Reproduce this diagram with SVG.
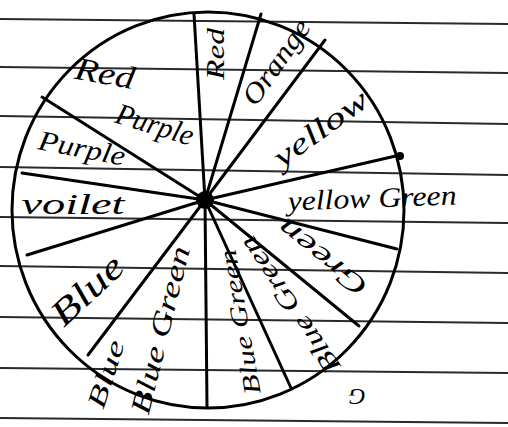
<svg xmlns="http://www.w3.org/2000/svg" width="508" height="427" viewBox="0 0 508 427">
<style>
.paper{stroke:#2a2a2a;stroke-width:2;fill:none}
.ink{stroke:#000;stroke-width:3;fill:none;stroke-linecap:round}
.lbl{font-family:"Liberation Serif","DejaVu Serif",serif;font-style:italic;fill:#000;text-anchor:middle;dominant-baseline:central}
</style>
<rect width="508" height="427" fill="#fff"/>
<g id="paper-lines">
<line class="paper" x1="0" y1="19" x2="508" y2="24"/>
<line class="paper" x1="0" y1="67" x2="508" y2="73"/>
<line class="paper" x1="0" y1="116" x2="508" y2="124"/>
<line class="paper" x1="0" y1="167" x2="508" y2="175"/>
<line class="paper" x1="0" y1="217" x2="508" y2="223"/>
<line class="paper" x1="0" y1="266" x2="508" y2="273"/>
<line class="paper" x1="0" y1="317" x2="508" y2="323"/>
<line class="paper" x1="0" y1="368" x2="508" y2="373"/>
<line class="paper" x1="0" y1="418" x2="508" y2="423"/>
</g>
<g id="wheel">
<ellipse class="ink" cx="208" cy="210" rx="196" ry="198" stroke-width="3.5"/>
</g>
<g id="connectors">
<line class="ink" x1="205" y1="200" x2="194" y2="14"/>
<line class="ink" x1="205" y1="200" x2="261" y2="14"/>
<line class="ink" x1="205" y1="200" x2="325" y2="40"/>
<line class="ink" x1="205" y1="200" x2="400" y2="155"/>
<line class="ink" x1="205" y1="200" x2="397" y2="249"/>
<line class="ink" x1="205" y1="200" x2="359" y2="326"/>
<line class="ink" x1="205" y1="200" x2="291" y2="388"/>
<line class="ink" x1="205" y1="200" x2="207" y2="407"/>
<line class="ink" x1="205" y1="200" x2="88" y2="355"/>
<line class="ink" x1="205" y1="200" x2="27" y2="255"/>
<line class="ink" x1="205" y1="200" x2="22" y2="173"/>
<line class="ink" x1="205" y1="200" x2="42" y2="97"/>
<circle cx="400" cy="156" r="4" fill="#000"/>
</g>
<g id="hub"><circle cx="205" cy="200" r="9" fill="#000"/></g>
<g id="labels">
<text class="lbl" font-size="32" textLength="60" lengthAdjust="spacingAndGlyphs" transform="translate(105,73) rotate(10)">Red</text>
<text class="lbl" font-size="30" textLength="80" lengthAdjust="spacingAndGlyphs" transform="translate(155,124) rotate(17)">Purple</text>
<text class="lbl" font-size="28" textLength="88" lengthAdjust="spacingAndGlyphs" transform="translate(82,148) rotate(11)">Purple</text>
<text class="lbl" font-size="30" textLength="103" lengthAdjust="spacingAndGlyphs" transform="translate(73,203)">voilet</text>
<text class="lbl" font-size="26" textLength="52" lengthAdjust="spacingAndGlyphs" transform="translate(215,54) rotate(-90)">Red</text>
<text class="lbl" font-size="28" textLength="98" lengthAdjust="spacingAndGlyphs" transform="translate(276,62) rotate(-55)">Orange</text>
<text class="lbl" font-size="30" textLength="110" lengthAdjust="spacingAndGlyphs" transform="translate(320,128) rotate(-36)">yellow</text>
<text class="lbl" font-size="28" textLength="169" lengthAdjust="spacingAndGlyphs" transform="translate(372,198) rotate(-2)">yellow Green</text>
<text class="lbl" font-size="28" textLength="107" lengthAdjust="spacingAndGlyphs" transform="translate(322,258) rotate(219)">Green</text>
<text class="lbl" font-size="26" textLength="160" lengthAdjust="spacingAndGlyphs" transform="translate(290,305) rotate(236)">Blue Green</text>
<text class="lbl" font-size="24" textLength="147" lengthAdjust="spacingAndGlyphs" transform="translate(240,322) rotate(-100)">Blue Green</text>
<text class="lbl" font-size="28" textLength="172" lengthAdjust="spacingAndGlyphs" transform="translate(160,330) rotate(-76)">Blue Green</text>
<text class="lbl" font-size="26" textLength="70" lengthAdjust="spacingAndGlyphs" transform="translate(106,374) rotate(-72)">Blue</text>
<text class="lbl" font-size="36" textLength="86" lengthAdjust="spacingAndGlyphs" transform="translate(87,290) rotate(-43)">Blue</text>
<text class="lbl" font-size="24" transform="translate(357,397) rotate(180)">G</text>
</g>
</svg>
